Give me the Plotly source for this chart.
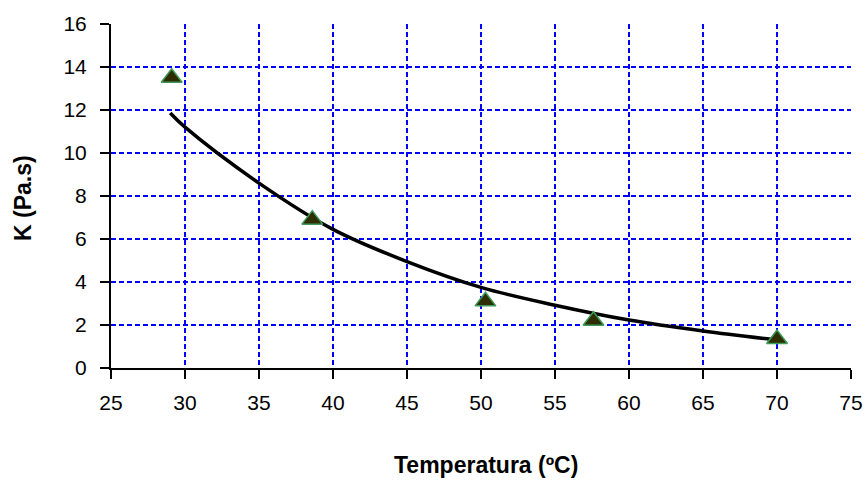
import plotly.graph_objects as go

# Measured consistency index K at each temperature
temperatura = [29.1, 38.6, 50.3, 57.6, 70.0]
k_pas = [13.5, 6.9, 3.1, 2.2, 1.35]

# Exponential trend line, sampled every 5 ºC along its length
trend_t = [29, 30, 35, 40, 45, 50, 55, 60, 65, 70]
trend_k = [11.86, 11.2, 8.6, 6.45, 4.95, 3.75, 2.92, 2.23, 1.72, 1.3]

x_ticks = [25, 30, 35, 40, 45, 50, 55, 60, 65, 70, 75]
y_ticks = [0, 2, 4, 6, 8, 10, 12, 14, 16]

FONT = "Liberation Sans, Arial, sans-serif"

fig = go.Figure()
fig.add_trace(go.Scatter(
    x=trend_t, y=trend_k, mode="lines",
    line=dict(color="black", width=3.5, shape="spline", smoothing=1),
    hoverinfo="skip", showlegend=False,
))
fig.add_trace(go.Scatter(
    x=temperatura, y=k_pas, mode="markers",
    marker=dict(symbol="triangle-up", size=18, color="#2e2e00",
                line=dict(color="#3d9a5c", width=1.5)),
    showlegend=False,
))

grid = dict(showgrid=True, gridcolor="#0000ff", gridwidth=2, griddash="5px,3px")
tick_font = dict(family=FONT, size=21, color="black")

fig.update_xaxes(
    range=[25, 75], tickvals=x_ticks, ticktext=[str(v) for v in x_ticks],
    showline=True, linecolor="black", linewidth=2, zeroline=False,
    ticks="outside", ticklen=9, tickwidth=2, tickcolor="black",
    tickfont=tick_font, ticklabelstandoff=6, automargin=False,
    **grid,
)
fig.update_yaxes(
    range=[0, 16], tickvals=y_ticks, ticktext=[str(v) for v in y_ticks],
    showline=True, linecolor="black", linewidth=2, zeroline=False,
    ticks="outside", ticklen=9, tickwidth=2, tickcolor="black",
    tickfont=tick_font, ticklabelstandoff=9, automargin=False,
    **grid,
)

# Axis titles
fig.add_annotation(
    text="<b>Temperatura (ºC)</b>", xref="paper", yref="paper",
    x=0.507, y=-0.283, showarrow=False, xanchor="center", yanchor="middle",
    font=dict(family=FONT, size=23, color="black"),
)
fig.add_annotation(
    text="<b>K (Pa.s)</b>", xref="paper", yref="paper",
    x=-0.119, y=0.494, showarrow=False, xanchor="center", yanchor="middle",
    textangle=-90, font=dict(family=FONT, size=23, color="black"),
)

fig.update_layout(
    width=868, height=481,
    margin=dict(l=111, r=17, t=24, b=113),
    paper_bgcolor="white", plot_bgcolor="white",
)

fig.write_html("out.html")
